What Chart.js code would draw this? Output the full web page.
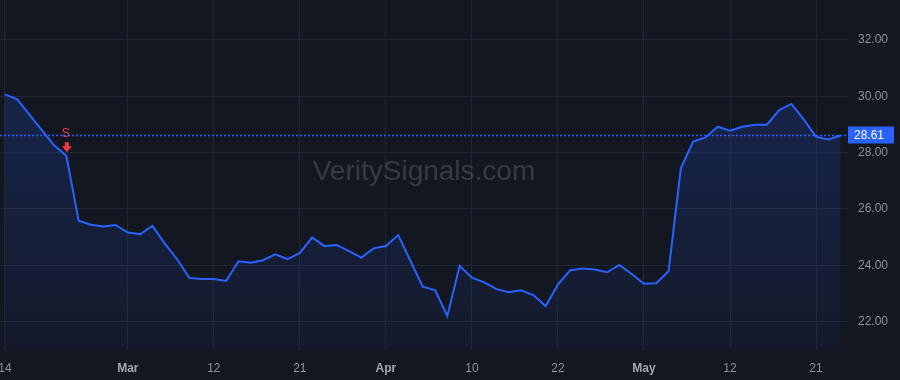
<!DOCTYPE html>
<html>
<head>
<meta charset="utf-8">
<title>Price chart</title>
<script src="https://cdn.jsdelivr.net/npm/chart.js@4.4.1/dist/chart.umd.min.js"></script>
<style>
  html, body { margin: 0; padding: 0; background: #131722; }
  #wrap { width: 900px; height: 380px; }
</style>
</head>
<body>
<div id="wrap"><canvas id="priceChart" width="900" height="380"></canvas></div>
<script>
// Closing prices, one per trading day
const closes = [
  30.07, 29.89, 29.35, 28.80, 28.26, 27.89, 25.58, 25.44, 25.38, 25.43,
  25.16, 25.10, 25.40, 24.78, 24.22, 23.55, 23.51, 23.51, 23.44, 24.14,
  24.09, 24.18, 24.39, 24.22, 24.44, 24.99, 24.68, 24.72, 24.50, 24.27,
  24.60, 24.68, 25.07, 24.15, 23.24, 23.12, 22.20, 23.98, 23.56, 23.39,
  23.15, 23.04, 23.11, 22.94, 22.55, 23.32, 23.82, 23.88, 23.85, 23.75,
  24.01, 23.69, 23.34, 23.36, 23.79, 27.44, 28.39, 28.54, 28.92, 28.78,
  28.92, 28.99, 28.99, 29.51, 29.73, 29.18, 28.56, 28.47, 28.61
];

// x-axis ticks: bar index -> label
const xTickIdx = [0, 10, 17, 24, 31, 38, 45, 52, 59, 66];
const xTickLabels = ['14', 'Mar', '12', '21', 'Apr', '10', '22', 'May', '12', '21'];
const monthLabels = ['Mar', 'Apr', 'May'];

// y-axis ticks
const yTicks = [22, 24, 26, 28, 30, 32];

// trade signals
const signalIdx = [5];
const signalText = ['S'];

const watermark = 'VeritySignals.com';

// ============================================================
// Colors
// ============================================================
const COLORS = {
  bg: '#131722',
  line: '#2962ff',
  priceLine: '#2962ff',
  grid: '#232733',
  tick: '#8f929b',
  monthTick: '#a4a7b0',
  sell: '#f23645',
  mark: 'rgba(120, 123, 134, 0.35)'
};

const FONT = '"Liberation Sans", Arial, sans-serif';

// Label overflow would shrink the plot; the reference plot runs edge to edge
function noPadding(scale) {
  scale.paddingLeft = 0;
  scale.paddingRight = 0;
  scale.paddingTop = 0;
  scale.paddingBottom = 0;
}

// ============================================================
// Plugins
// ============================================================
const backgroundPlugin = {
  id: 'bg',
  beforeDraw(chart) {
    const { ctx, width, height } = chart;
    ctx.save();
    ctx.fillStyle = COLORS.bg;
    ctx.fillRect(0, 0, width, height);
    ctx.restore();
  }
};

const watermarkPlugin = {
  id: 'watermark',
  beforeDatasetsDraw(chart) {
    const { ctx, chartArea: a } = chart;
    ctx.save();
    ctx.font = '28px ' + FONT;
    ctx.fillStyle = COLORS.mark;
    ctx.textAlign = 'center';
    ctx.textBaseline = 'middle';
    ctx.fillText(watermark, (a.left + a.right) / 2, (a.top + a.bottom) / 2 - 3);
    ctx.restore();
  }
};

// dotted last-price line + price tag on the right axis
const lastPricePlugin = {
  id: 'lastPrice',
  afterDatasetsDraw(chart) {
    const { ctx, chartArea: a, scales } = chart;
    const last = closes[closes.length - 1];
    const y = Math.round(scales.y.getPixelForValue(last)) + 0.5;
    ctx.save();
    ctx.strokeStyle = COLORS.priceLine;
    ctx.lineWidth = 1.5;
    ctx.setLineDash([2, 2]);
    ctx.beginPath();
    ctx.moveTo(a.left, y);
    ctx.lineTo(a.right, y);
    ctx.stroke();
    ctx.setLineDash([]);

    ctx.fillStyle = COLORS.line;
    ctx.fillRect(a.right, y - 9, 46, 17);
    ctx.fillStyle = '#ffffff';
    ctx.font = '12px ' + FONT;
    ctx.textAlign = 'left';
    ctx.textBaseline = 'middle';
    ctx.fillText(last.toFixed(2), a.right + 6, y);
    ctx.restore();
  }
};

// "S" + down arrow above the signal bar
const signalPlugin = {
  id: 'signals',
  afterDatasetsDraw(chart) {
    const { ctx, scales } = chart;
    signalIdx.forEach((idx, k) => {
      const x = scales.x.getPixelForValue(idx) + 0.5;
      const y = scales.y.getPixelForValue(closes[idx]);
      ctx.save();
      ctx.fillStyle = COLORS.sell;
      ctx.font = '12px ' + FONT;
      ctx.textAlign = 'center';
      ctx.textBaseline = 'middle';
      ctx.fillText(signalText[k], x - 1, y - 22);
      // arrow: stem + head
      const tip = y - 3.5;
      ctx.fillRect(x - 2, tip - 10, 4, 5);
      ctx.beginPath();
      ctx.moveTo(x - 5, tip - 6);
      ctx.lineTo(x + 5, tip - 6);
      ctx.lineTo(x, tip);
      ctx.closePath();
      ctx.fill();
      ctx.restore();
    });
  }
};

// ============================================================
// Chart
// ============================================================
const canvas = document.getElementById('priceChart');

new Chart(canvas, {
  type: 'line',
  data: {
    datasets: [{
      data: closes.map((v, i) => ({ x: i, y: v })),
      borderColor: COLORS.line,
      borderWidth: 2,
      pointRadius: 0,
      tension: 0,
      fill: 'start',
      backgroundColor: (ctx) => {
        const area = ctx.chart.chartArea;
        if (!area) return 'rgba(41, 98, 255, 0.15)';
        const g = ctx.chart.ctx.createLinearGradient(0, area.top, 0, area.bottom);
        g.addColorStop(0, 'rgba(41, 98, 255, 0.24)');
        g.addColorStop(1, 'rgba(41, 98, 255, 0.04)');
        return g;
      }
    }]
  },
  options: {
    responsive: false,
    animation: false,
    devicePixelRatio: 1,
    layout: { padding: 0 },
    plugins: {
      legend: { display: false },
      tooltip: { enabled: false }
    },
    scales: {
      x: {
        type: 'linear',
        min: -0.4,
        max: 68.6,
        afterBuildTicks: (scale) => {
          scale.ticks = xTickIdx.map((v) => ({ value: v }));
        },
        afterFit: (scale) => { scale.height = 30; noPadding(scale); },
        grid: { color: COLORS.grid, drawTicks: false },
        border: { display: false },
        ticks: {
          padding: 11,
          maxRotation: 0,
          autoSkip: false,
          callback: (val) => {
            const k = xTickIdx.indexOf(val);
            return k >= 0 ? xTickLabels[k] : null;
          },
          color: (ctx) => monthLabels.includes(xTickLabels[ctx.index]) ? COLORS.monthTick : COLORS.tick,
          font: (ctx) => ({
            family: FONT,
            size: 12,
            weight: monthLabels.includes(xTickLabels[ctx.index]) ? 'bold' : 'normal'
          })
        }
      },
      y: {
        position: 'right',
        min: 20.99,
        max: 33.42,
        afterBuildTicks: (scale) => {
          scale.ticks = yTicks.map((v) => ({ value: v }));
        },
        afterFit: (scale) => { scale.width = 52; noPadding(scale); },
        grid: { color: COLORS.grid, drawTicks: false },
        border: { display: false },
        ticks: {
          padding: 10,
          color: COLORS.tick,
          font: { family: FONT, size: 12 },
          callback: (val) => Number(val).toFixed(2)
        }
      }
    }
  },
  plugins: [backgroundPlugin, watermarkPlugin, lastPricePlugin, signalPlugin]
});
</script>
</body>
</html>
